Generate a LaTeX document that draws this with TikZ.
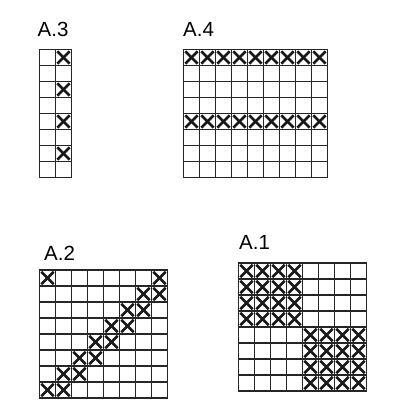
\documentclass[tikz,border=0pt]{standalone}
\usepackage{fontspec}
\setmainfont{Liberation Sans}
\newcommand\lblfont{\fontsize{20.5}{22}\selectfont}
\tikzset{
  gl/.style={draw=black!85, line width=1.4pt, line cap=rect},
  xmark/.style={draw=black!90, line width=2.6pt},
  lbl/.style={anchor=base west, inner sep=0pt}
}
\newcommand\gridAt[4]{%
  \foreach \i in {0,...,#3} \draw[gl] ({#1+\i*16},#2) -- ++(0,{#4*16});
  \foreach \j in {0,...,#4} \draw[gl] (#1,{#2+\j*16}) -- ++({#3*16},0);
}
\newcommand\xAt[4]{%
  \draw[xmark] ({#1+(#3-1)*16+1.8},{#2+(#4-1)*16+1.8}) -- ++(12.4,12.4);
  \draw[xmark] ({#1+(#3-1)*16+1.8},{#2+(#4-1)*16+14.2}) -- ++(12.4,-12.4);
}
\begin{document}
\begin{tikzpicture}[x=1pt,y=-1pt]
\useasboundingbox (0,0) rectangle (400,416);
% labels
\node[lbl] (l3) at (37.5,36) {\lblfont A.3};
\node[lbl] (l4) at (183,36) {\lblfont A.4};
\node[lbl] (l2) at (44,260) {\lblfont A.2};
\node[lbl] (l1) at (239,249) {\lblfont A.1};
% A.3
\foreach \r in {1,3,5,7} {\xAt{39.5}{49.5}{2}{\r}}
\gridAt{39.5}{49.5}{2}{8}
% A.4
\foreach \c in {1,...,9} {\xAt{183.5}{49.5}{\c}{1}\xAt{183.5}{49.5}{\c}{5}}
\gridAt{183.5}{49.5}{9}{8}
% A.2
\xAt{39.5}{270}{1}{1}\xAt{39.5}{270}{8}{1}
\foreach \r in {2,...,8} {%
  \pgfmathtruncatemacro\ca{10-\r}\pgfmathtruncatemacro\cb{9-\r}%
  \xAt{39.5}{270}{\ca}{\r}\xAt{39.5}{270}{\cb}{\r}}
\gridAt{39.5}{270}{8}{8}
% A.1
\foreach \r in {1,...,4} {\foreach \c in {1,...,4} {\xAt{238.5}{263}{\c}{\r}}}
\foreach \r in {5,...,8} {\foreach \c in {5,...,8} {\xAt{238.5}{263}{\c}{\r}}}
\gridAt{238.5}{263}{8}{8}
\end{tikzpicture}
\end{document}
